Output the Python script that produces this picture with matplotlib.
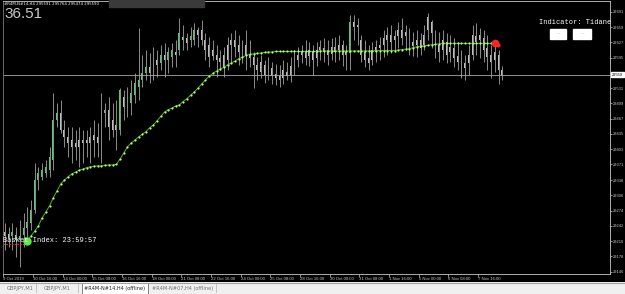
import numpy as np
import matplotlib.pyplot as plt
import matplotlib.transforms as mtransforms
from matplotlib.patches import Rectangle

# H4 candles (price units)
highs = [29248, 29239, 29248, 29239, 29254, 29269, 29281, 29296, 29374, 29365,
         29374, 29380, 29407, 29521, 29500, 29506, 29464, 29449, 29449, 29443,
         29449, 29443, 29443, 29449, 29464, 29458, 29521, 29500, 29512, 29500,
         29506, 29531, 29527, 29533, 29548, 29563, 29657, 29601, 29611, 29605,
         29617, 29611, 29622, 29626, 29617, 29626, 29632, 29678, 29664, 29647,
         29659, 29668, 29659, 29674, 29647, 29638, 29632, 29622, 29611, 29617,
         29638, 29647, 29653, 29643, 29632, 29653, 29632, 29607, 29596, 29601,
         29590, 29596, 29586, 29582, 29580, 29590, 29586, 29596, 29611, 29617,
         29622, 29632, 29628, 29622, 29628, 29632, 29636, 29632, 29636, 29638,
         29643, 29632, 29622, 29685, 29685, 29678, 29643, 29632, 29622, 29628,
         29632, 29638, 29653, 29659, 29664, 29653, 29670, 29678, 29664, 29657,
         29649, 29653, 29647, 29664, 29689, 29674, 29653, 29649, 29653, 29647,
         29643, 29636, 29628, 29611, 29601, 29622, 29664, 29668, 29657, 29653,
         29643, 29622, 29632, 29611, 29577]
lows = [29191, 29197, 29191, 29176, 29155, 29197, 29218, 29233, 29269, 29317,
        29338, 29344, 29344, 29359, 29449, 29437, 29407, 29386, 29374, 29380,
        29365, 29374, 29386, 29374, 29386, 29386, 29374, 29449, 29422, 29428,
        29401, 29433, 29464, 29470, 29475, 29500, 29506, 29533, 29548, 29542,
        29548, 29554, 29569, 29554, 29563, 29575, 29575, 29601, 29611, 29611,
        29617, 29622, 29617, 29622, 29590, 29575, 29590, 29554, 29569, 29554,
        29569, 29584, 29596, 29580, 29584, 29569, 29575, 29531, 29548, 29552,
        29542, 29548, 29540, 29538, 29533, 29540, 29548, 29544, 29559, 29575,
        29584, 29580, 29577, 29559, 29577, 29590, 29586, 29580, 29590, 29586,
        29590, 29577, 29569, 29569, 29632, 29622, 29586, 29575, 29569, 29580,
        29586, 29590, 29596, 29601, 29605, 29607, 29615, 29622, 29611, 29601,
        29598, 29596, 29601, 29611, 29632, 29615, 29594, 29586, 29590, 29584,
        29586, 29575, 29569, 29552, 29548, 29559, 29590, 29601, 29594, 29586,
        29569, 29552, 29565, 29540, 29548]
opens = [29229, 29225, 29220, 29223, 29212, 29223, 29237, 29248, 29275, 29338,
         29344, 29353, 29359, 29380, 29464, 29479, 29443, 29428, 29422, 29416,
         29422, 29422, 29422, 29428, 29433, 29428, 29395, 29479, 29485, 29464,
         29454, 29443, 29512, 29491, 29500, 29517, 29533, 29548, 29563, 29575,
         29565, 29590, 29584, 29601, 29590, 29596, 29607, 29611, 29638, 29636,
         29632, 29632, 29653, 29653, 29632, 29622, 29611, 29601, 29594, 29601,
         29622, 29632, 29632, 29622, 29622, 29622, 29601, 29596, 29580, 29586,
         29580, 29580, 29573, 29561, 29556, 29569, 29565, 29577, 29590, 29601,
         29607, 29607, 29611, 29607, 29611, 29617, 29615, 29611, 29617, 29617,
         29622, 29622, 29607, 29605, 29670, 29664, 29632, 29607, 29594, 29611,
         29617, 29622, 29636, 29643, 29643, 29640, 29653, 29653, 29649, 29645,
         29628, 29632, 29632, 29643, 29680, 29670, 29643, 29622, 29632, 29628,
         29617, 29615, 29598, 29590, 29584, 29601, 29643, 29640, 29643, 29636,
         29615, 29601, 29607, 29601, 29569]
closes = [29220, 29216, 29229, 29212, 29220, 29237, 29250, 29275, 29338, 29353,
          29359, 29365, 29386, 29464, 29479, 29443, 29428, 29416, 29407, 29407,
          29407, 29416, 29416, 29416, 29422, 29416, 29479, 29485, 29449, 29443,
          29443, 29527, 29491, 29512, 29521, 29542, 29548, 29563, 29575, 29563,
          29590, 29580, 29601, 29590, 29607, 29611, 29601, 29647, 29632, 29626,
          29640, 29653, 29643, 29632, 29611, 29596, 29598, 29590, 29586, 29573,
          29590, 29622, 29617, 29607, 29607, 29601, 29594, 29580, 29569, 29565,
          29559, 29565, 29556, 29552, 29548, 29552, 29556, 29559, 29577, 29590,
          29601, 29594, 29598, 29590, 29594, 29611, 29607, 29601, 29603, 29607,
          29611, 29601, 29601, 29670, 29659, 29659, 29601, 29590, 29584, 29590,
          29607, 29615, 29622, 29632, 29628, 29632, 29640, 29636, 29640, 29628,
          29619, 29622, 29615, 29622, 29653, 29647, 29622, 29607, 29611, 29601,
          29607, 29594, 29586, 29569, 29573, 29584, 29601, 29628, 29632, 29611,
          29596, 29586, 29590, 29569, 29559]

# dotted moving average, starts at bar 6
ma_start = 6
ma = [29210, 29221, 29231, 29242, 29259, 29271, 29284, 29301, 29315, 29330,
      29338, 29345, 29351, 29355, 29359, 29361, 29364, 29366, 29367, 29368,
      29368, 29369, 29370, 29370, 29371, 29382, 29395, 29408, 29416, 29422,
      29429, 29434, 29440, 29448, 29454, 29463, 29472, 29481, 29486, 29489,
      29494, 29496, 29503, 29509, 29516, 29523, 29531, 29540, 29548, 29556,
      29562, 29567, 29571, 29575, 29580, 29584, 29588, 29593, 29596, 29600,
      29602, 29603, 29604, 29605, 29606, 29607, 29607, 29608, 29608, 29608,
      29608, 29608, 29608, 29608, 29608, 29608, 29608, 29608, 29608, 29609,
      29609, 29609, 29609, 29609, 29609, 29609, 29609, 29609, 29609, 29609,
      29609, 29609, 29609, 29609, 29610, 29610, 29610, 29610, 29610, 29610,
      29611, 29612, 29613, 29614, 29616, 29618, 29619, 29620, 29621, 29622,
      29623, 29624, 29625, 29625, 29625, 29625, 29625, 29625, 29625, 29625,
      29625, 29625, 29625, 29625, 29625, 29625, 29625]

time_labels = ['9 Oct 2019', '10 Oct 16:00', '14 Oct 00:00', '15 Oct 08:00',
               '16 Oct 16:00', '18 Oct 00:00', '21 Oct 08:00', '22 Oct 16:00',
               '24 Oct 00:00', '25 Oct 08:00', '28 Oct 16:00', '30 Oct 00:00',
               '31 Oct 08:00', '1 Nov 16:00', '5 Nov 00:00', '6 Nov 08:00',
               '7 Nov 16:00']
price_ticks = [29146, 29178, 29210, 29242, 29274, 29306, 29338, 29371, 29403,
               29435, 29467, 29499, 29531, 29563, 29595, 29627, 29659, 29691]
tabs = ['GBPJPY,M1', 'GBPJPY,M1', '#R4M-N#14,H4 (offline)', '#R4M-N#07,H4 (offline)']

W, H = 625, 294
fig = plt.figure(figsize=(W / 100, H / 100), dpi=100, facecolor='black')
ax = fig.add_axes([3 / W, 20.5 / H, 606.5 / W, 272.5 / H], facecolor='black')

bars = np.arange(len(opens))
o = np.array(opens)
c = np.array(closes)
bull = c >= o

# wicks and bodies
ax.vlines(bars, lows, highs, color='#8c8c8c', lw=0.7)
ax.bar(bars[bull], (c - o)[bull], bottom=o[bull], width=0.5, color='#4ccf6e', linewidth=0)
ax.bar(bars[~bull], (o - c)[~bull], bottom=c[~bull], width=0.5, color='#bdbdbd', linewidth=0)

# current price line
ax.axhline(closes[-1], color='#a8a8a8', lw=0.6)

# moving average
ma_bars = np.arange(ma_start, ma_start + len(ma))
ax.plot(ma_bars, ma, color='#4fae2c', lw=0.7)
ax.plot(ma_bars, ma, ls='none', marker='o', ms=1.6, mfc='#b4ff6a', mec='none')
ax.plot(ma_bars[0], ma[0], 'o', ms=5, color='#5cec44')
ax.plot(ma_bars[-1], ma[-1], 'o', ms=4.5, color='#ff2424')
ax.plot(ma_bars[-1] + 0.9, ma[-1] - 3, 'o', ms=2, color='#ff2424')
ax.hlines(ma[0] - 6, -0.5, ma_start - 0.5, color='#e03030', lw=0.8, ls=(0, (1.5, 1)))

ax.set_xlim(-0.54, 162.9)
ax.set_ylim(29142, 29714)

for s in ax.spines.values():
    s.set_color('#c8c8c8')
    s.set_linewidth(0.6)
ax.spines['left'].set_color('#7a7a7a')

ax.yaxis.tick_right()
ax.set_yticks(price_ticks)
ax.set_yticklabels([str(p) for p in price_ticks], family='Liberation Sans')
ax.tick_params(axis='y', colors='#c8c8c8', labelsize=2.9, length=1.5, width=0.5, pad=0.8)
# the price box covers this label in the reference
for lab, p in zip(ax.get_yticklabels(), price_ticks):
    if abs(p - closes[-1]) < 8:
        lab.set_visible(False)

ax.set_xticks(np.arange(len(time_labels)) * 8 - 0.5)
ax.set_xticklabels(time_labels, family='Liberation Sans')
ax.tick_params(axis='x', colors='#c8c8c8', labelsize=3.1, length=2, width=0.5, pad=0.8)
for lab in ax.get_xticklabels():
    lab.set_ha('left')

# current price box on the price scale
trans = mtransforms.blended_transform_factory(ax.transAxes, ax.transData)
ax.text(1.004, closes[-1], str(closes[-1]), transform=trans, fontsize=2.9, color='black',
        va='center', ha='left', clip_on=False, family='Liberation Sans',
        bbox=dict(boxstyle='square,pad=0.15', fc='white', ec='white'))

# header texts
fig.text(4 / W, 1 - 4 / H, '#R4M-N#14,H4 295591 295764 295474 295590', fontsize=2.8,
         color='white', va='center', ha='left')
fig.text(4 / W, 1 - 14.5 / H, '36.51', fontsize=11, color='#c8c8c8', va='center',
         ha='left', family='Liberation Sans')
fig.patches.append(Rectangle((109 / W, 1 - 7 / H), 95 / W, 7 / H, transform=fig.transFigure,
                             color='#3a3a3a', zorder=0))

fig.text(539 / W, 1 - 23 / H, 'Indicator: Tidane', fontsize=5, color='white',
         family='Liberation Mono', va='center', ha='left')
for bx, bw in [(550, 16), (573, 18)]:
    fig.patches.append(Rectangle((bx / W, 1 - 39 / H), bw / W, 10 / H,
                                 transform=fig.transFigure, color='white'))
    fig.text((bx + bw / 2) / W, 1 - 34 / H, '\u00b7', fontsize=4, color='#555555',
             ha='center', va='center')

fig.text(3 / W, 1 - 241 / H, 'Basket Index: 23:59:57', fontsize=5, color='white',
         family='Liberation Mono', va='center', ha='left')

# tab bar at the bottom
tab_ax = fig.add_axes([0, 0, 1, 12 / H], facecolor='#f0f0f0')
tab_ax.set_xlim(0, W)
tab_ax.set_ylim(0, 12)
tab_ax.set_xticks([])
tab_ax.set_yticks([])
for s in tab_ax.spines.values():
    s.set_visible(False)
tab_ax.axhline(11.5, color='#a0a0a0', lw=0.8)
tab_centers = [20, 57, 115, 183]
for i, (tx, name) in enumerate(zip(tab_centers, tabs)):
    if i == 2:
        tab_ax.add_patch(Rectangle((82, 0.5), 66, 10.5, fc='white', ec='#505050', lw=0.5))
        tab_ax.text(tx, 5.5, name, fontsize=3.6, color='#202020', ha='center', va='center')
    else:
        tab_ax.text(tx, 5.5, name, fontsize=3.6, color='#707070', ha='center', va='center')
for sx in [36, 78, 216]:
    tab_ax.axvline(sx, ymin=0.15, ymax=0.85, color='#b0b0b0', lw=0.5)

fig.savefig('out.png', dpi=100, facecolor='black')
